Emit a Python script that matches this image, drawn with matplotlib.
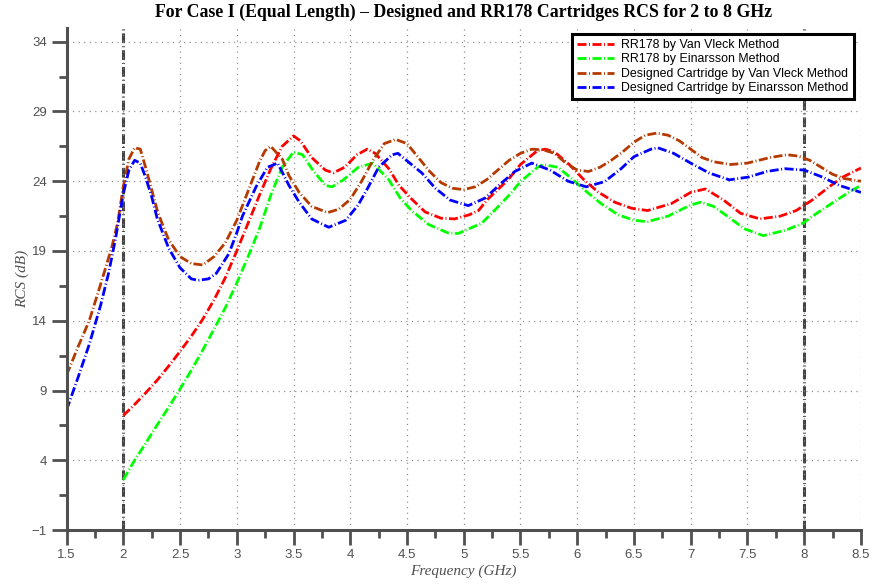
import matplotlib
matplotlib.use("Agg")
import matplotlib.pyplot as plt

plt.rcParams['lines.scale_dashes'] = False

# ---------------- data ----------------
dvv_x = [1.5, 1.6, 1.7, 1.8, 1.9, 1.95, 2.0, 2.05, 2.1, 2.15, 2.2, 2.25, 2.3, 2.35, 2.4,
         2.5, 2.6, 2.7, 2.8, 2.9, 3.0, 3.1, 3.2, 3.25, 3.3, 3.4, 3.46, 3.55, 3.66, 3.8,
         3.9, 4.0, 4.1, 4.2, 4.3, 4.4, 4.5, 4.6, 4.7, 4.8, 4.9, 5.0, 5.1, 5.2, 5.3, 5.4,
         5.5, 5.6, 5.7, 5.8, 5.9, 6.0, 6.1, 6.2, 6.3, 6.4, 6.5, 6.6, 6.7, 6.8, 6.9, 7.0,
         7.1, 7.2, 7.35, 7.5, 7.6, 7.7, 7.85, 7.95, 8.05, 8.15, 8.25, 8.35, 8.5]
dvv_y = [10.1, 12.1, 14.0, 16.6, 19.3, 21.0, 23.6, 25.6, 26.4, 26.3, 24.9, 23.4, 21.9, 20.8, 19.8,
         18.6, 18.1, 18.0, 18.6, 19.6, 21.2, 23.3, 25.4, 26.2, 26.5, 25.6, 24.4, 23.2, 22.2, 21.75,
         22.0, 22.7, 24.0, 25.5, 26.7, 27.0, 26.7, 25.7, 24.7, 23.9, 23.5, 23.4, 23.6, 24.1, 24.8, 25.5,
         26.0, 26.3, 26.25, 26.0, 25.3, 24.8, 24.7, 25.0, 25.5, 26.1, 26.8, 27.3, 27.45, 27.3, 26.9, 26.3,
         25.7, 25.4, 25.2, 25.3, 25.5, 25.7, 25.9, 25.8, 25.5, 25.0, 24.5, 24.2, 24.0]

dei_x = [1.5, 1.6, 1.7, 1.8, 1.87, 1.93, 2.0, 2.05, 2.1, 2.15, 2.2, 2.25, 2.3, 2.4, 2.5,
         2.6, 2.66, 2.75, 2.82, 2.93, 3.0, 3.05, 3.17, 3.27, 3.36, 3.46, 3.55, 3.66, 3.81,
         3.96, 4.07, 4.16, 4.25, 4.37, 4.42, 4.51, 4.63, 4.75, 4.88, 5.04, 5.19, 5.33, 5.45,
         5.6, 5.76, 5.92, 6.08, 6.24, 6.38, 6.5, 6.65, 6.71, 6.85, 7.0, 7.16, 7.34, 7.51,
         7.67, 7.83, 8.0, 8.16, 8.31, 8.5]
dei_y = [7.6, 9.9, 12.3, 15.1, 17.4, 19.8, 23.1, 24.8, 25.5, 25.3, 24.2, 22.9, 21.3, 19.2, 17.8,
         17.0, 16.9, 17.0, 17.4, 18.8, 20.3, 21.5, 23.6, 25.0, 25.3, 23.7, 22.5, 21.3, 20.7,
         21.2, 22.3, 23.6, 25.0, 25.9, 26.0, 25.4, 24.6, 23.5, 22.65, 22.25, 22.8, 23.85, 24.7,
         25.3, 24.8, 24.0, 23.6, 23.97, 24.85, 25.76, 26.3, 26.4, 26.0, 25.3, 24.6, 24.1, 24.3,
         24.7, 24.9, 24.8, 24.3, 23.7, 23.2]

rvv_x = [2.0, 2.1, 2.2, 2.3, 2.4, 2.5, 2.6, 2.7, 2.8, 2.9, 3.0, 3.1, 3.2, 3.3, 3.4, 3.5,
         3.56, 3.66, 3.78, 3.85, 3.95, 4.06, 4.15, 4.22, 4.34, 4.43, 4.55, 4.66, 4.8, 4.92,
         5.05, 5.13, 5.21, 5.39, 5.5, 5.65, 5.72, 5.8, 5.93, 6.06, 6.18, 6.33, 6.48, 6.62,
         6.83, 7.0, 7.13, 7.29, 7.44, 7.61, 7.79, 7.93, 8.07, 8.22, 8.34, 8.5]
rvv_y = [7.2, 8.0, 8.85, 9.75, 10.75, 11.8, 12.9, 14.1, 15.5, 17.1, 19.0, 21.0, 23.0, 24.9, 26.5, 27.25,
         26.9, 25.7, 24.8, 24.6, 25.0, 25.9, 26.3, 26.0, 24.9, 23.7, 22.65, 21.8, 21.35, 21.3,
         21.6, 21.9, 22.7, 24.1, 25.2, 26.2, 26.3, 26.1, 25.2, 24.1, 23.25, 22.5, 22.06, 21.9,
         22.4, 23.2, 23.45, 22.65, 21.7, 21.3, 21.5, 21.9, 22.65, 23.6, 24.3, 24.95]

rei_x = [2.0, 2.1, 2.2, 2.3, 2.4, 2.5, 2.6, 2.7, 2.8, 2.9, 3.0, 3.1, 3.2, 3.3, 3.4, 3.5,
         3.58, 3.67, 3.78, 3.84, 3.94, 4.07, 4.2, 4.34, 4.44, 4.54, 4.69, 4.86, 4.95, 5.16,
         5.27, 5.4, 5.5, 5.65, 5.7, 5.83, 5.95, 6.06, 6.21, 6.36, 6.5, 6.62, 6.8, 7.0, 7.09,
         7.2, 7.34, 7.47, 7.64, 7.84, 7.99, 8.11, 8.26, 8.4, 8.5]
rei_y = [2.6, 4.0, 5.25, 6.55, 7.8, 9.1, 10.45, 11.9, 13.4, 14.95, 16.7, 18.6, 20.6, 23.0, 25.0, 26.1,
         25.9, 24.8, 23.7, 23.6, 24.1, 25.0, 25.3, 24.1, 22.8, 21.9, 20.9, 20.3, 20.25, 21.0,
         21.9, 23.0, 23.97, 25.0, 25.2, 25.0, 24.2, 23.4, 22.4, 21.6, 21.2, 21.1, 21.5, 22.3, 22.5,
         22.2, 21.4, 20.6, 20.1, 20.5, 21.0, 21.7, 22.5, 23.25, 23.7]

labels = ["RR178 by Van Vleck Method", "RR178 by Einarsson Method",
          "Designed Cartridge by Van Vleck Method", "Designed Cartridge by Einarsson Method"]
colors = ["#FF0000", "#00FF00", "#B53A00", "#0000FF"]
band_edges = [2, 8]

xticks = [1.5, 2, 2.5, 3, 3.5, 4, 4.5, 5, 5.5, 6, 6.5, 7, 7.5, 8, 8.5]
xtick_labels = ["1.5", "2", "2.5", "3", "3.5", "4", "4.5", "5", "5.5", "6", "6.5",
                "7", "7.5", "8", "8.5"]
xminor = [1.75, 2.25, 2.75, 3.25, 3.75, 4.25, 4.75, 5.25, 5.75, 6.25, 6.75, 7.25, 7.75, 8.25]
yticks = [-1, 4, 9, 14, 19, 24, 29, 34]
ytick_labels = ["\u22121", "4", "9", "14", "19", "24", "29", "34"]
yminor = [1.5, 6.5, 11.5, 16.5, 21.5, 26.5, 31.5]

# ---------------- figure ----------------
fig = plt.figure(figsize=(8.72, 5.85), dpi=100)
ax = fig.add_axes([0.0763, 0.094, 0.911, 0.8585])

dash = (0, (6.5, 1.8, 0.7, 1.8))
series = [(rvv_x, rvv_y), (rei_x, rei_y), (dvv_x, dvv_y), (dei_x, dei_y)]
for (xs, ys), c, lab in zip(series, colors, labels):
    ax.plot(xs, ys, color=c, lw=2.0, linestyle=dash, dash_capstyle='butt', label=lab)

for xv in band_edges:
    ax.axvline(xv, color="#444444", lw=2.2, linestyle=(0, (7, 2.2, 0.7, 2.2)),
               dash_capstyle='butt', zorder=1)

ax.set_xlim(1.5, 8.5)
ax.set_ylim(-1, 35)
ax.set_xticks(xticks)
ax.set_xticklabels(xtick_labels)
ax.set_xticks(xminor, minor=True)
ax.set_yticks(yticks)
ax.set_yticklabels(ytick_labels)
ax.set_yticks(yminor, minor=True)

for s in ["top", "right"]:
    ax.spines[s].set_visible(False)
for s in ["left", "bottom"]:
    ax.spines[s].set_color("#505050")
    ax.spines[s].set_linewidth(2.2)

ax.tick_params(which="major", direction="out", length=11, width=2.0, color="#505050",
               labelcolor="#505050", labelsize=9.5, pad=3)
ax.tick_params(which="minor", direction="out", length=5.5, width=2.0, color="#505050")
for lab in ax.get_xticklabels() + ax.get_yticklabels():
    lab.set_family("Liberation Sans")

ax.grid(True, which="major", linestyle=(0, (0.8, 3.2)), color="#888888", lw=0.9)

ax.set_title("For Case I (Equal Length) \u2013 Designed and RR178 Cartridges RCS for 2 to 8 GHz",
             fontfamily="Liberation Serif", fontweight="bold", fontsize=12.75, pad=8)
ax.set_xlabel("Frequency (GHz)", fontfamily="Liberation Serif", fontstyle="italic",
              fontsize=11, color="#505050", labelpad=2)
ax.set_ylabel("RCS (dB)", fontfamily="Liberation Serif", fontstyle="italic",
              fontsize=11, color="#505050", labelpad=2)

leg = ax.legend(loc="upper right", bbox_to_anchor=(0.9985, 1.0),
                prop={"family": "Liberation Sans", "size": 8.9},
                frameon=True, fancybox=False, edgecolor="black", framealpha=1,
                handlelength=3.0, handletextpad=0.6, borderpad=0.4, labelspacing=0.2)
leg.get_frame().set_linewidth(2.2)

fig.savefig("out.png", dpi=100)
